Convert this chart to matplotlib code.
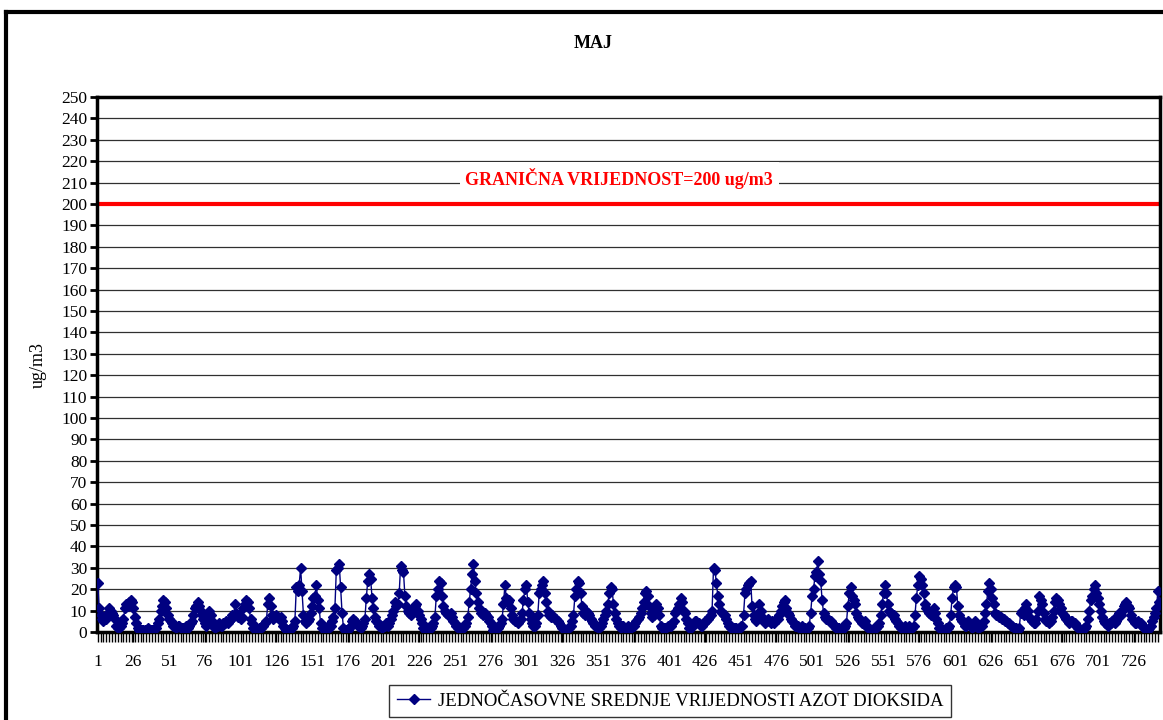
import numpy as np
import matplotlib.pyplot as plt
from matplotlib.lines import Line2D

# Jednočasovne vrijednosti NO2, maj (31 dan x 24 sata)
dan01 = [23, 11, 8, 6, 5, 7, 6, 9, 11, 10, 9, 8, 6, 3, 2, 2, 3, 4, 6, 11, 13, 12, 14, 15]
dan02 = [14, 11, 7, 4, 2, 1, 1, 1, 1, 1, 1, 2, 1, 1, 1, 1, 2, 2, 4, 6, 10, 12, 15, 14]
dan03 = [11, 8, 6, 5, 4, 3, 3, 2, 3, 3, 2, 2, 2, 2, 3, 2, 3, 4, 5, 8, 11, 12, 14, 12]
dan04 = [10, 8, 6, 4, 3, 6, 10, 8, 5, 3, 2, 3, 3, 4, 3, 3, 4, 4, 5, 4, 5, 6, 8, 7]
dan05 = [13, 9, 7, 8, 6, 7, 11, 13, 15, 14, 11, 6, 4, 2, 2, 2, 1, 2, 2, 3, 3, 4, 5, 13]
dan06 = [16, 12, 8, 6, 7, 8, 7, 6, 7, 5, 3, 2, 1, 1, 1, 2, 2, 3, 5, 21, 19, 22, 30, 19]
dan07 = [8, 5, 4, 5, 6, 9, 12, 16, 17, 22, 15, 11, 4, 2, 2, 2, 2, 3, 2, 3, 5, 7, 11, 29]
dan08 = [30, 32, 21, 9, 2, 1, 1, 1, 2, 3, 5, 6, 5, 4, 3, 3, 2, 3, 4, 6, 16, 24, 27, 25]
dan09 = [16, 11, 7, 5, 4, 3, 3, 2, 3, 3, 4, 3, 4, 6, 8, 10, 14, 12, 13, 18, 31, 29, 28, 17]
dan10 = [12, 10, 9, 8, 10, 11, 12, 13, 10, 8, 6, 4, 2, 1, 1, 2, 2, 2, 3, 4, 7, 17, 20, 24]
dan11 = [23, 17, 12, 10, 9, 8, 8, 9, 7, 5, 4, 3, 2, 2, 1, 2, 2, 3, 4, 7, 14, 20, 27, 32]
dan12 = [24, 18, 14, 11, 9, 9, 8, 9, 8, 7, 5, 4, 3, 1, 2, 1, 2, 3, 4, 6, 13, 22, 16, 14]
dan13 = [15, 11, 8, 6, 5, 5, 4, 5, 6, 9, 15, 20, 22, 14, 9, 6, 4, 3, 3, 4, 8, 18, 20, 22]
dan14 = [24, 18, 14, 10, 8, 7, 8, 7, 6, 6, 5, 4, 3, 2, 2, 1, 1, 2, 2, 3, 5, 8, 17, 20]
dan15 = [24, 23, 18, 12, 9, 8, 10, 9, 8, 6, 5, 4, 3, 3, 2, 2, 3, 4, 6, 8, 10, 13, 18, 21]
dan16 = [20, 13, 9, 6, 4, 3, 2, 3, 3, 2, 2, 3, 2, 2, 3, 3, 4, 5, 6, 7, 9, 11, 14, 18]
dan17 = [19, 17, 12, 9, 7, 8, 10, 13, 11, 8, 3, 2, 2, 2, 2, 3, 3, 3, 4, 5, 9, 10, 11, 13]
dan18 = [16, 14, 10, 9, 6, 4, 2, 2, 3, 4, 5, 5, 4, 4, 3, 3, 4, 5, 5, 6, 7, 8, 10, 30]
dan19 = [29, 23, 17, 13, 10, 9, 8, 8, 6, 4, 3, 2, 2, 2, 2, 2, 1, 2, 3, 3, 8, 18, 20, 22]
dan20 = [23, 24, 12, 8, 6, 5, 9, 13, 10, 7, 5, 4, 5, 6, 5, 4, 5, 4, 5, 6, 6, 8, 10, 12]
dan21 = [14, 15, 11, 9, 8, 6, 5, 4, 3, 3, 3, 2, 2, 3, 2, 2, 1, 2, 3, 9, 17, 20, 26, 28]
dan22 = [33, 27, 24, 15, 9, 7, 6, 6, 5, 5, 4, 3, 3, 2, 2, 2, 1, 2, 2, 3, 4, 12, 18, 21]
dan23 = [17, 15, 13, 9, 7, 6, 5, 4, 4, 5, 3, 2, 2, 1, 1, 2, 2, 2, 3, 4, 8, 13, 18, 22]
dan24 = [18, 13, 10, 9, 8, 8, 6, 5, 4, 3, 2, 2, 2, 3, 2, 2, 3, 2, 2, 3, 8, 16, 22, 26]
dan25 = [25, 22, 18, 13, 11, 10, 9, 8, 10, 11, 9, 6, 4, 2, 2, 1, 1, 1, 2, 2, 3, 8, 16, 21]
dan26 = [22, 21, 12, 8, 6, 5, 4, 3, 3, 5, 4, 3, 2, 3, 5, 3, 2, 2, 3, 3, 5, 9, 13, 19]
dan27 = [23, 20, 16, 13, 9, 8, 8, 7, 7, 6, 6, 5, 5, 4, 4, 3, 3, 2, 2, 2, 1, 2, 9, 10]
dan28 = [8, 11, 13, 10, 7, 6, 5, 4, 4, 6, 10, 17, 15, 13, 9, 6, 5, 5, 4, 5, 7, 10, 14, 16]
dan29 = [15, 13, 11, 9, 8, 7, 6, 5, 4, 5, 5, 4, 4, 3, 2, 2, 1, 1, 2, 2, 3, 6, 10, 15]
dan30 = [17, 20, 22, 18, 16, 13, 10, 7, 5, 4, 4, 3, 4, 4, 5, 6, 4, 5, 7, 9, 8, 10, 12, 13]
dan31 = [14, 12, 11, 8, 6, 5, 4, 4, 5, 4, 4, 3, 2, 2, 1, 1, 2, 3, 5, 7, 9, 11, 19, 14]

dani = [dan01, dan02, dan03, dan04, dan05, dan06, dan07, dan08, dan09, dan10,
        dan11, dan12, dan13, dan14, dan15, dan16, dan17, dan18, dan19, dan20,
        dan21, dan22, dan23, dan24, dan25, dan26, dan27, dan28, dan29, dan30, dan31]
vrijednosti = [v for d in dani for v in d]
sati = np.arange(1, len(vrijednosti) + 1)

granicna = 200
x_oznake = list(range(1, 745, 25))

plt.rcParams['font.family'] = ['Liberation Serif', 'DejaVu Serif']

fig = plt.figure(figsize=(11.63, 7.2), dpi=100)
ax = fig.add_axes([97 / 1163, 1 - 632 / 720, 1063 / 1163, 535 / 720])

ax.plot(sati, vrijednosti, color='#000080', lw=1, marker='D', markersize=5,
        markerfacecolor='#000080', markeredgecolor='#000080',
        label='JEDNOČASOVNE SREDNJE VRIJEDNOSTI AZOT DIOKSIDA', zorder=3)
ax.axhline(granicna, color='#ff0000', lw=3, zorder=2)
ax.text(366, 212, 'GRANIČNA VRIJEDNOST=200 ug/m3', color='#ff0000', fontsize=13,
        fontweight='bold', ha='center', va='center', zorder=4,
        bbox=dict(facecolor='white', edgecolor='none', pad=4))

ax.set_ylim(0, 250)
ax.set_xlim(0.5, 744.5)
ax.set_yticks(range(0, 251, 10))
ax.set_xticks(x_oznake)
ax.set_xticks(sati[::2], minor=True)
ax.yaxis.grid(True, color='#303030', lw=0.9)
ax.set_axisbelow(True)
ax.tick_params(axis='y', labelsize=12.5, length=5, width=2, direction='out', pad=2)
ax.tick_params(axis='x', which='major', labelsize=12.5, length=7, width=1, pad=9)
ax.tick_params(axis='x', which='minor', length=7, width=1)
for s in ax.spines.values():
    s.set_linewidth(2.5)
    s.set_color('black')
ax.set_ylabel('ug/m3', fontsize=13, labelpad=10)

fig.text(593 / 1163, 1 - 43 / 720, 'MAJ', fontsize=13, fontweight='bold', ha='center', va='center')

leg = fig.legend(loc='center', bbox_to_anchor=(670 / 1163, 1 - 701 / 720), fontsize=13.5,
                 frameon=True, fancybox=False, edgecolor='black', handlelength=1.8,
                 handletextpad=0.4, borderpad=0.4, borderaxespad=0)
leg.get_frame().set_linewidth(1)

# okvir grafikona
fig.add_artist(Line2D([6 / 1163, 6 / 1163], [0, 1 - 12 / 720], color='black', lw=3,
                      transform=fig.transFigure))
fig.add_artist(Line2D([6 / 1163, 1], [1 - 12 / 720, 1 - 12 / 720], color='black', lw=3,
                      transform=fig.transFigure))

fig.savefig('out.png', dpi=100, facecolor='white')
